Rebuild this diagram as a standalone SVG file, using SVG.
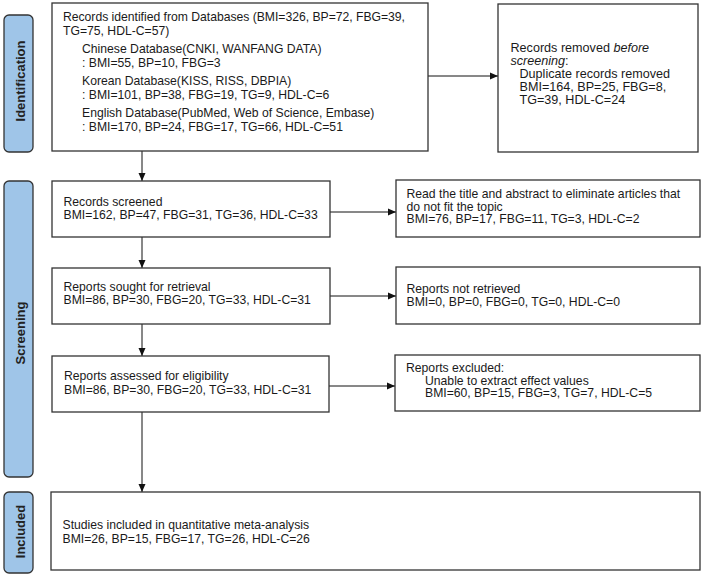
<svg xmlns="http://www.w3.org/2000/svg" width="702" height="576" viewBox="0 0 702 576">
<defs>
<marker id="ah" markerUnits="userSpaceOnUse" markerWidth="8" markerHeight="8" refX="8" refY="4" orient="auto">
<path d="M0,0.5 L8,4 L0,7.5 z" fill="#111"/>
</marker>
<style>
.box{fill:#fff;stroke:#333;stroke-width:1.3}
.side{fill:#9fc5e8;stroke:#333;stroke-width:1.3}
.t{font-family:"Liberation Sans",Arial,sans-serif;font-size:12.2px;fill:#1a1a1a}
.r{font-family:"Liberation Sans",Arial,sans-serif;font-size:12.6px;fill:#1a1a1a}
.s{font-family:"Liberation Sans",Arial,sans-serif;font-size:13px;font-weight:bold;fill:#222}
.c{stroke:#111;stroke-width:1;fill:none;marker-end:url(#ah)}
</style>
</defs>
<rect width="702" height="576" fill="#fff"/>
<g id="side-identification">
<rect class="side" x="4" y="15" width="29" height="137" rx="5"/>
<text class="s" transform="translate(25,81) rotate(-90)" text-anchor="middle">Identification</text>
</g>
<g id="side-screening">
<rect class="side" x="4" y="181" width="29" height="296" rx="5"/>
<text class="s" transform="translate(25,333) rotate(-90)" text-anchor="middle">Screening</text>
</g>
<g id="side-included">
<rect class="side" x="4" y="492" width="29" height="81" rx="5"/>
<text class="s" transform="translate(25,531.5) rotate(-90)" text-anchor="middle">Included</text>
</g>
<g id="connectors">
<line class="c" x1="142" y1="151" x2="142" y2="181"/>
<line class="c" x1="142" y1="237" x2="142" y2="268"/>
<line class="c" x1="142" y1="324" x2="142" y2="356"/>
<line class="c" x1="142" y1="412" x2="142" y2="492"/>
<line class="c" x1="428" y1="76" x2="498" y2="76"/>
<line class="c" x1="330" y1="212" x2="396" y2="212"/>
<line class="c" x1="330" y1="296" x2="396" y2="296"/>
<line class="c" x1="329" y1="386" x2="395" y2="386"/>
</g>
<g id="node-identified">
<rect class="box" x="52" y="3" width="376" height="148"/>
<text class="t" x="63" y="21" textLength="342" lengthAdjust="spacing">Records identified from Databases (BMI=326, BP=72, FBG=39,</text>
<text class="t" x="63" y="34.5">TG=75, HDL-C=57)</text>
<text class="t" x="82" y="53">Chinese Database(CNKI, WANFANG DATA)</text>
<text class="t" x="82" y="67">: BMI=55, BP=10, FBG=3</text>
<text class="t" x="82" y="84.5">Korean Database(KISS, RISS, DBPIA)</text>
<text class="t" x="82" y="99">: BMI=101, BP=38, FBG=19, TG=9, HDL-C=6</text>
<text class="t" x="82" y="116.5">English Database(PubMed, Web of Science, Embase)</text>
<text class="t" x="82" y="131">: BMI=170, BP=24, FBG=17, TG=66, HDL-C=51</text>
</g>
<g id="node-removed">
<rect class="box" x="498" y="4" width="200" height="148"/>
<text class="r" x="510.5" y="52">Records removed <tspan font-style="italic">before</tspan></text>
<text class="r" x="510.5" y="65"><tspan font-style="italic">screening</tspan>:</text>
<text class="r" x="519.5" y="78">Duplicate records removed</text>
<text class="r" x="519.5" y="91">BMI=164, BP=25, FBG=8,</text>
<text class="r" x="519.5" y="104">TG=39, HDL-C=24</text>
</g>
<g id="node-screened">
<rect class="box" x="52" y="181" width="278" height="56"/>
<text class="t" x="63.5" y="205.5">Records screened</text>
<text class="t" x="63.5" y="218.5">BMI=162, BP=47, FBG=31, TG=36, HDL-C=33</text>
</g>
<g id="node-title-abstract">
<rect class="box" x="396" y="180" width="304" height="57"/>
<text class="t" x="406.5" y="198">Read the title and abstract to eliminate articles that</text>
<text class="t" x="406.5" y="210.5">do not fit the topic</text>
<text class="t" x="406.5" y="223">BMI=76, BP=17, FBG=11, TG=3, HDL-C=2</text>
</g>
<g id="node-sought">
<rect class="box" x="52" y="268" width="278" height="56"/>
<text class="t" x="63.5" y="290.7">Reports sought for retrieval</text>
<text class="t" x="63.5" y="303.7">BMI=86, BP=30, FBG=20, TG=33, HDL-C=31</text>
</g>
<g id="node-not-retrieved">
<rect class="box" x="396" y="267" width="304" height="57"/>
<text class="t" x="406.5" y="292.5">Reports not retrieved</text>
<text class="t" x="406.5" y="305.5">BMI=0, BP=0, FBG=0, TG=0, HDL-C=0</text>
</g>
<g id="node-assessed">
<rect class="box" x="52" y="356" width="277" height="56"/>
<text class="t" x="64" y="380">Reports assessed for eligibility</text>
<text class="t" x="64" y="393.5">BMI=86, BP=30, FBG=20, TG=33, HDL-C=31</text>
</g>
<g id="node-excluded">
<rect class="box" x="395" y="355" width="305" height="56"/>
<text class="t" x="406" y="372.2">Reports excluded:</text>
<text class="t" x="425" y="384.7">Unable to extract effect values</text>
<text class="t" x="425" y="397.2">BMI=60, BP=15, FBG=3, TG=7, HDL-C=5</text>
</g>
<g id="node-included">
<rect class="box" x="51" y="492" width="649" height="78"/>
<text class="t" x="62.5" y="528.5">Studies included in quantitative meta-analysis</text>
<text class="t" x="62.5" y="543">BMI=26, BP=15, FBG=17, TG=26, HDL-C=26</text>
</g>
</svg>
